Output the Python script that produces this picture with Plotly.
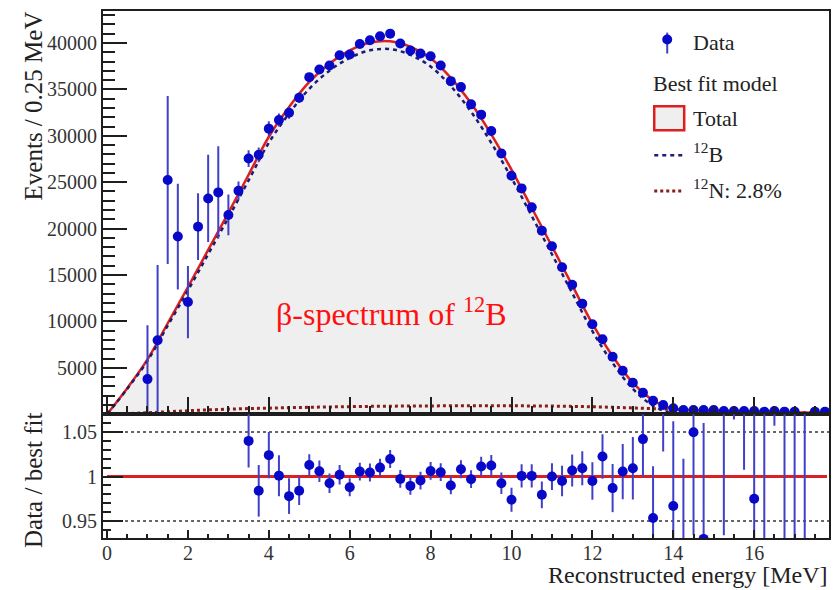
import plotly.graph_objects as go

# ---------------- data ----------------
# Measured spectrum, 0.25 MeV bins (bin centres in MeV)
data_x = [1.0 + 0.25 * i for i in range(68)]
data_y = [3780, 7970, 25230, 19140, 12080, 20210, 23250, 23900, 21470, 24080,
          27550, 27950, 30770, 31700, 32490, 34100, 36320, 37150, 37580, 38690,
          38760, 39900, 40300, 40730, 41010, 39940, 39190, 38870, 38580, 37580,
          35890, 35250, 33390, 32280, 30520, 28090, 25690, 24330, 22290, 19780,
          18100, 15840, 13950, 11910, 9690, 8080, 6180, 4670, 3380, 2310,
          1450, 990, 630, 450, 450, 450, 450, 340, 340, 340,
          340, 270, 340, 270, 270, None, 270, 270]
data_err = [5800, 8100, 9050, 5700, 3900, 3600, 4700, 4970, 2200, 1000,
            900, 800, 800, 700, 650, 550, 450, 430, 420, 410,
            400, 400, 400, 400, 400, 400, 400, 400, 390, 380,
            370, 360, 350, 340, 330, 320, 310, 300, 290, 280,
            270, 260, 250, 230, 210, 190, 170, 150, 130, 110,
            90, 80, 70, 60, 60, 60, 60, 55, 55, 55,
            55, 50, 55, 50, 50, None, 50, 50]

# Best-fit model components (0.5 MeV grid)
model_x = [0.0, 0.5, 1.0, 1.5, 2.0, 2.5, 3.0, 3.5, 4.0, 4.5, 5.0, 5.5, 6.0,
           6.5, 7.0, 7.5, 8.0, 8.5, 9.0, 9.5, 10.0, 10.5, 11.0, 11.5, 12.0,
           12.5, 13.0, 13.5, 14.0, 14.5, 15.0, 15.5, 16.0, 16.5, 17.0, 17.5, 17.85]
total_fit = [0, 2800, 5900, 9800, 13700, 17700, 21700, 25800, 29900, 33100,
             35800, 37800, 39200, 40050, 40200, 39600, 38350, 36250, 33500,
             30150, 26350, 22250, 18100, 13900, 9750, 6250, 3400, 1500, 600,
             430, 380, 330, 290, 250, 200, 150, 120]
n12_fit = [0, 60, 150, 260, 370, 460, 540, 600, 650, 700, 740, 780, 810, 840,
           860, 880, 890, 900, 905, 905, 900, 890, 870, 840, 800, 740, 670,
           590, 520, 430, 380, 330, 290, 250, 200, 150, 120]
# 12B component = total fit minus the 12N contribution
b12_fit = [t - n for t, n in zip(total_fit, n12_fit)]

# Data / best fit ratio
ratio_x = [3.5 + 0.25 * i for i in range(56)]
ratio_y = [1.040, 0.984, 1.024, 1.001, 0.978, 0.984, 1.013, 1.006, 0.9925, 1.002,
           0.988, 1.0056, 1.0045, 1.010, 1.0197, 0.9973, 0.9895, 0.9955, 1.0063, 1.0049,
           0.990, 1.0082, 0.997, 1.0112, 1.0123, 0.9925, 0.9739, 1.0007, 1.0007, 0.9795,
           1.000, 0.995, 1.0067, 1.0093, 0.995, 1.0224, 0.987, 1.0056, 1.0093, 1.042,
           0.9534, 1.10, 0.967, 0.90, 1.0497, 0.93, 1.35, 1.20, 1.25, 1.25,
           0.9751, 1.10, 1.25, 1.10, 1.10, 1.10]
ratio_err = [0.030, 0.029, 0.026, 0.023, 0.020, 0.016, 0.012, 0.012, 0.011, 0.011,
             0.010, 0.010, 0.010, 0.010, 0.010, 0.010, 0.010, 0.010, 0.010, 0.010,
             0.010, 0.010, 0.010, 0.011, 0.012, 0.012, 0.0135, 0.013, 0.013, 0.015,
             0.015, 0.017, 0.018, 0.019, 0.021, 0.025, 0.027, 0.031, 0.035, 0.042,
             0.058, 0.072, 0.095, 0.12, 0.115, 0.13, 0.20, 0.266, 0.186, 0.2425,
             0.20, 0.30, 0.193, 0.30, 0.30, 0.30]

y_ticks_top = [5000, 10000, 15000, 20000, 25000, 30000, 35000, 40000]
y_ticks_top_text = [str(v) for v in y_ticks_top]
y_ticks_bot = [0.95, 1.0, 1.05]
y_ticks_bot_text = ["0.95", "1", "1.05"]
x_ticks = [0, 2, 4, 6, 8, 10, 12, 14, 16]

# ---------------- style ----------------
FONT = "Liberation Serif"
BLUE = "#0808c8"
BAR_BLUE = "#4040c8"
RED = "#dc2020"
NAVY = "#1c1c70"
MAROON = "#8a1c1c"
FRAME = "#1e1e1e"
W, H = 840, 590
L, R, T, B = 103, 830, 9.3, 538.3
SPLIT = 414.0


def px(x):
    return (x - L) / (R - L)


def py(y):
    return (B - y) / (B - T)


fig = go.Figure()

# grey-filled total fit
fig.add_trace(go.Scatter(x=model_x, y=total_fit, mode="lines", fill="tozeroy",
                         fillcolor="#efefef",
                         line=dict(color="rgba(0,0,0,0)", width=0, shape="spline"),
                         hoverinfo="skip", xaxis="x", yaxis="y"))
fig.add_trace(go.Scatter(x=model_x, y=n12_fit, mode="lines",
                         line=dict(color=MAROON, width=3, dash="dot", shape="spline"),
                         xaxis="x", yaxis="y"))
fig.add_trace(go.Scatter(x=model_x, y=total_fit, mode="lines",
                         line=dict(color=RED, width=2.5, shape="spline"),
                         xaxis="x", yaxis="y"))
fig.add_trace(go.Scatter(x=model_x, y=b12_fit, mode="lines",
                         line=dict(color=NAVY, width=2.5, dash="4px,4px", shape="spline"),
                         xaxis="x", yaxis="y"))
fig.add_trace(go.Scatter(x=data_x, y=data_y, mode="markers",
                         marker=dict(color=BLUE, size=10),
                         error_y=dict(type="data", array=data_err, color=BAR_BLUE,
                                      thickness=2, width=0),
                         xaxis="x", yaxis="y"))

# ratio panel
fig.add_trace(go.Scatter(x=[0, 17.8], y=[1, 1], mode="lines",
                         line=dict(color=RED, width=3), xaxis="x2", yaxis="y2"))
fig.add_trace(go.Scatter(x=ratio_x, y=ratio_y, mode="markers",
                         marker=dict(color=BLUE, size=10),
                         error_y=dict(type="data", array=ratio_err, color=BAR_BLUE,
                                      thickness=2, width=0),
                         xaxis="x2", yaxis="y2"))

shapes = []
for lvl in (0.95, 1.05):
    shapes.append(dict(type="line", xref="x2", yref="y2", x0=0, x1=17.85, y0=lvl, y1=lvl,
                       line=dict(color="#333333", width=1.5, dash="dot"), layer="below"))

# legend glyphs
shapes.append(dict(type="line", xref="paper", yref="paper", x0=px(668), x1=px(668),
                   y0=py(31), y1=py(52), line=dict(color=BAR_BLUE, width=2)))
shapes.append(dict(type="rect", xref="paper", yref="paper", x0=px(655), x1=px(685),
                   y0=py(129), y1=py(105), fillcolor="#efefef",
                   line=dict(color=RED, width=2.5)))
shapes.append(dict(type="line", xref="paper", yref="paper", x0=px(655), x1=px(685),
                   y0=py(154), y1=py(154), line=dict(color=NAVY, width=2.5, dash="4px,4px")))
shapes.append(dict(type="line", xref="paper", yref="paper", x0=px(655), x1=px(685),
                   y0=py(190), y1=py(190), line=dict(color=MAROON, width=3, dash="dot")))
shapes.append(dict(type="circle", xref="paper", yref="paper", x0=px(663), x1=px(673),
                   y0=py(43), y1=py(33), fillcolor=BLUE, line=dict(color=BLUE, width=0)))

ann = []


def text(x, y, s, size=22, color="#222222", xanchor="left", angle=0):
    ann.append(dict(xref="paper", yref="paper", x=px(x), y=py(y), text=s,
                    showarrow=False, xanchor=xanchor, yanchor="middle", textangle=angle,
                    font=dict(family=FONT, size=size, color=color)))


text(692, 41, "Data")
text(652, 82, "Best fit model")
text(692, 117, "Total")
text(692, 152, "<sup>12</sup>B")
text(692, 188, "<sup>12</sup>N: 2.8%")
text(392, 311, "β-spectrum of <sup>12</sup>B", size=32, color="#ff1010", xanchor="center")
text(33, 105, "Events / 0.25 MeV", size=25, xanchor="center", angle=-90)
text(34, 481, "Data / best fit", size=25, xanchor="center", angle=-90)
text(830, 575, "Reconstructed energy [MeV]", size=24, xanchor="right")

axis_common = dict(showline=True, linecolor=FRAME, linewidth=2, mirror=True,
                   ticks="inside", tickcolor=FRAME, tickwidth=1.5, showgrid=False,
                   zeroline=False, tickfont=dict(family=FONT, size=20, color="#333333"))

top = B - T
fig.update_layout(
    width=W, height=H,
    margin=dict(l=L, r=W - R, t=T, b=H - B),
    paper_bgcolor="white", plot_bgcolor="white",
    showlegend=False,
    xaxis=dict(domain=[0, 1], anchor="y", range=[-0.1, 17.85], dtick=2, tick0=0,
               ticklen=17, showticklabels=False,
               minor=dict(dtick=0.5, tick0=0, ticklen=8, ticks="inside",
                          tickcolor=FRAME, tickwidth=1.5),
               **axis_common),
    yaxis=dict(domain=[(B - SPLIT) / top, 1], anchor="x", range=[0, 43450],
               tickmode="array", tickvals=y_ticks_top, ticktext=y_ticks_top_text,
               ticklen=24,
               minor=dict(dtick=1000, tick0=0, ticklen=12, ticks="inside",
                          tickcolor=FRAME, tickwidth=1.5),
               **axis_common),
    xaxis2=dict(domain=[0, 1], anchor="y2", matches="x", range=[-0.1, 17.85],
                tickmode="array", tickvals=x_ticks, ticklen=8, ticklabelstandoff=-4,
                minor=dict(dtick=0.5, tick0=0, ticklen=4, ticks="inside",
                           tickcolor=FRAME, tickwidth=1.5),
                **axis_common),
    yaxis2=dict(domain=[0, (B - SPLIT) / top], anchor="x2", range=[0.931, 1.070],
                tickmode="array", tickvals=y_ticks_bot, ticktext=y_ticks_bot_text,
                ticklen=20,
                minor=dict(dtick=0.01, tick0=0.95, ticklen=8, ticks="inside",
                           tickcolor=FRAME, tickwidth=1.5),
                **axis_common),
    shapes=shapes,
    annotations=ann,
)

fig.write_html("out.html")
